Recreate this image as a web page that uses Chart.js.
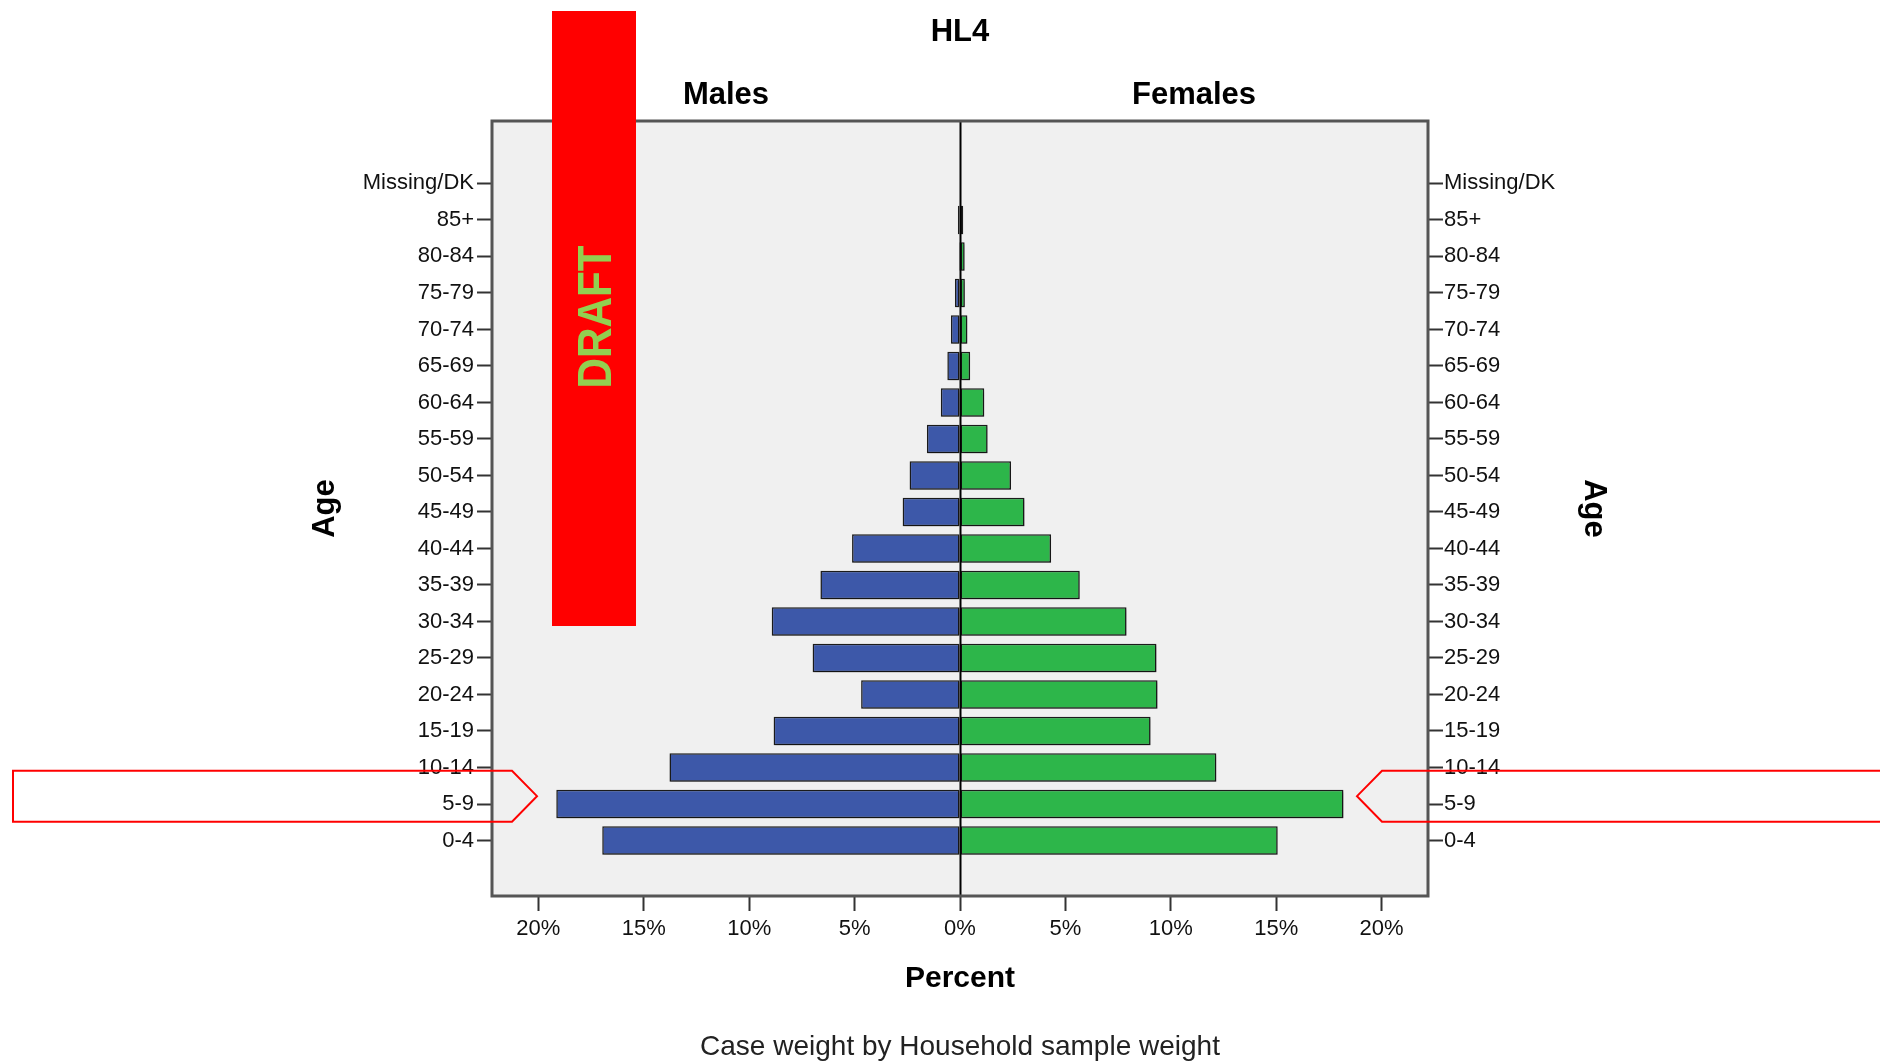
<!DOCTYPE html>
<html>
<head>
<meta charset="utf-8">
<title>HL4</title>
<script src="https://cdn.jsdelivr.net/npm/chart.js@4.4.1/dist/chart.umd.min.js"></script>
<style>
  html, body { margin: 0; padding: 0; background: #ffffff; overflow: hidden; }
  #wrap { width: 1880px; height: 1064px; position: relative; }
  canvas { display: block; }
</style>
</head>
<body>
<div id="wrap"><canvas id="chart" width="1880" height="1064"></canvas></div>
<script>
// ---------------- data ----------------
const ageGroups = ['0-4','5-9','10-14','15-19','20-24','25-29','30-34','35-39','40-44','45-49',
                   '50-54','55-59','60-64','65-69','70-74','75-79','80-84','85+','Missing/DK'];
const malesPct   = [16.97, 19.15, 13.78, 8.84, 4.69, 6.99, 8.93, 6.62, 5.12, 2.72,
                    2.39, 1.57, 0.91, 0.60, 0.43, 0.24, 0.05, 0.10, 0];
const femalesPct = [15.07, 18.19, 12.16, 9.04, 9.37, 9.32, 7.90, 5.68, 4.32, 3.06,
                    2.42, 1.31, 1.15, 0.48, 0.35, 0.23, 0.22, 0.15, 0];
const xTickValues = [-20, -15, -10, -5, 0, 5, 10, 15, 20];
const chartTitle = 'HL4';
const sideLabels = ['Males', 'Females'];
const xAxisTitle = 'Percent';
const yAxisTitle = 'Age';
const caption = 'Case weight by Household sample weight';
const watermarkText = 'DRAFT';
const highlightedGroup = '5-9';

// ---------------- styling ----------------
const FONT = "'Liberation Sans', Arial, Helvetica, sans-serif";
Chart.defaults.font.family = FONT;
Chart.defaults.color = '#111';

const maleColor = '#3d58a9';
const femaleColor = '#2db64a';

const xLimit = 22.2;       // half-width of the percent axis
const yMin = -1.52, yMax = 19.71;

const maleData = malesPct.map((v, i) => ({ x: -v, y: i }));
const femaleData = femalesPct.map((v, i) => ({ x: v, y: i }));

const pyramidPlugin = {
  id: 'pyramidDecor',
  beforeDraw(chart) {
    const { ctx, chartArea: a } = chart;
    ctx.save();
    ctx.fillStyle = '#f0f0f0';
    ctx.fillRect(a.left, a.top, a.right - a.left, a.bottom - a.top);
    ctx.restore();
  },
  beforeDatasetsDraw(chart) {
    const ctx = chart.ctx;
    ctx.save();
    ctx.shadowColor = 'rgba(0,0,0,0.35)';
    ctx.shadowBlur = 3;
    ctx.shadowOffsetX = 1;
    ctx.shadowOffsetY = 2;
  },
  afterDatasetsDraw(chart) {
    const { ctx, chartArea: a, scales } = chart;
    ctx.restore();
    const x0 = Math.round(scales.x.getPixelForValue(0)) + 0.5;
    ctx.save();
    ctx.strokeStyle = '#000';
    ctx.lineWidth = 2;
    ctx.beginPath();
    ctx.moveTo(x0, a.top);
    ctx.lineTo(x0, a.bottom);
    ctx.stroke();
    ctx.restore();
  },
  afterDraw(chart) {
    const { ctx, chartArea: a, scales } = chart;
    // frame
    ctx.save();
    ctx.strokeStyle = '#555';
    ctx.lineWidth = 3;
    ctx.strokeRect(a.left, a.top, a.right - a.left, a.bottom - a.top);
    ctx.restore();

    // Males / Females headings
    const x0 = scales.x.getPixelForValue(0);
    ctx.save();
    ctx.fillStyle = '#000';
    ctx.font = 'bold 31px ' + FONT;
    ctx.textAlign = 'center';
    ctx.textBaseline = 'middle';
    ctx.fillText(sideLabels[0], (a.left + x0) / 2, 95.5);
    ctx.fillText(sideLabels[1], (a.right + x0) / 2, 95.5);
    ctx.restore();

    // red highlight arrows around the 5-9 row
    const gi = ageGroups.indexOf(highlightedGroup);
    const yTop = scales.y.getPixelForValue(gi + 0.91);
    const yBot = scales.y.getPixelForValue(gi - 0.485);
    const yMid = scales.y.getPixelForValue(gi + 0.215);
    ctx.save();
    ctx.strokeStyle = '#ff0000';
    ctx.lineWidth = 2;
    ctx.beginPath();
    ctx.moveTo(13, yTop);
    ctx.lineTo(512, yTop);
    ctx.lineTo(537, yMid);
    ctx.lineTo(512, yBot);
    ctx.lineTo(13, yBot);
    ctx.closePath();
    ctx.stroke();
    ctx.beginPath();
    ctx.moveTo(1890, yTop);
    ctx.lineTo(1382, yTop);
    ctx.lineTo(1357, yMid);
    ctx.lineTo(1382, yBot);
    ctx.lineTo(1890, yBot);
    ctx.stroke();
    ctx.restore();

    // DRAFT watermark
    ctx.save();
    ctx.fillStyle = '#ff0000';
    ctx.fillRect(552, 11, 84, 615);
    ctx.translate(594, 317);
    ctx.rotate(-Math.PI / 2);
    ctx.scale(0.88, 1);
    ctx.fillStyle = '#92d050';
    ctx.font = 'bold 48px ' + FONT;
    ctx.textAlign = 'center';
    ctx.textBaseline = 'alphabetic';
    ctx.fillText(watermarkText, 0, 17.2);
    ctx.restore();
  }
};

const yTicksBuild = (scale) => { scale.ticks = ageGroups.map((_, i) => ({ value: i })); };

new Chart(document.getElementById('chart'), {
  type: 'bar',
  data: {
    datasets: [
      { label: sideLabels[0], data: maleData, backgroundColor: maleColor,
        borderColor: '#1c1c1c', borderWidth: 1.5, borderSkipped: false,
        barPercentage: 0.78, categoryPercentage: 1, yAxisID: 'y' },
      { label: sideLabels[1], data: femaleData, backgroundColor: femaleColor,
        borderColor: '#1c1c1c', borderWidth: 1.5, borderSkipped: false,
        barPercentage: 0.78, categoryPercentage: 1, yAxisID: 'y' }
    ]
  },
  options: {
    indexAxis: 'y',
    responsive: false,
    devicePixelRatio: 1,
    animation: false,
    layout: { padding: 0 },
    plugins: {
      legend: { display: false },
      tooltip: { enabled: false },
      title: {
        display: true, text: chartTitle, color: '#000', fullSize: false,
        font: { size: 31, weight: 'bold' },
        padding: { top: 13.5, bottom: 70.3 }
      },
      subtitle: {
        display: true, text: caption, position: 'bottom', color: '#222', fullSize: false,
        font: { size: 28, weight: 'normal' },
        padding: { top: 11, bottom: 0 }
      }
    },
    scales: {
      x: {
        type: 'linear', min: -xLimit, max: xLimit, stacked: true,
        afterFit: (s) => { s.height = 123.4; },
        afterBuildTicks: (s) => { s.ticks = xTickValues.map(v => ({ value: v })); },
        ticks: {
          autoSkip: false, padding: 5, color: '#111',
          font: { size: 22 },
          callback: (v) => Math.abs(v) + '%'
        },
        grid: { drawOnChartArea: false, drawTicks: true, tickLength: 15, tickColor: '#333', tickWidth: 2 },
        border: { display: false },
        title: {
          display: true, text: xAxisTitle, color: '#000',
          font: { size: 30, weight: 'bold' },
          padding: { top: 0, bottom: 23 }
        }
      },
      y: {
        type: 'linear', position: 'left', min: yMin, max: yMax, stacked: true,
        offset: false,
        afterFit: (s) => { s.width = 492; },
        afterBuildTicks: yTicksBuild,
        ticks: {
          autoSkip: false, padding: 3, color: '#111',
          font: { size: 22 },
          callback: (v) => ageGroups[v]
        },
        grid: { offset: false, drawOnChartArea: false, drawTicks: true, tickLength: 15, tickColor: '#333', tickWidth: 2 },
        border: { display: false },
        title: {
          display: true, text: yAxisTitle, color: '#000',
          font: { size: 31, weight: 'bold' },
          padding: { top: 307, bottom: 0 }
        }
      },
      y2: {
        type: 'linear', position: 'right', min: yMin, max: yMax,
        offset: false,
        afterFit: (s) => { s.width = 452; },
        afterBuildTicks: yTicksBuild,
        ticks: {
          autoSkip: false, padding: 1, color: '#111',
          font: { size: 22 },
          callback: (v) => ageGroups[v]
        },
        grid: { offset: false, drawOnChartArea: false, drawTicks: true, tickLength: 15, tickColor: '#333', tickWidth: 2 },
        border: { display: false },
        title: {
          display: true, text: yAxisTitle, color: '#000',
          font: { size: 31, weight: 'bold' },
          padding: { top: 268, bottom: 0 }
        }
      }
    }
  },
  plugins: [pyramidPlugin]
});
</script>
</body>
</html>
